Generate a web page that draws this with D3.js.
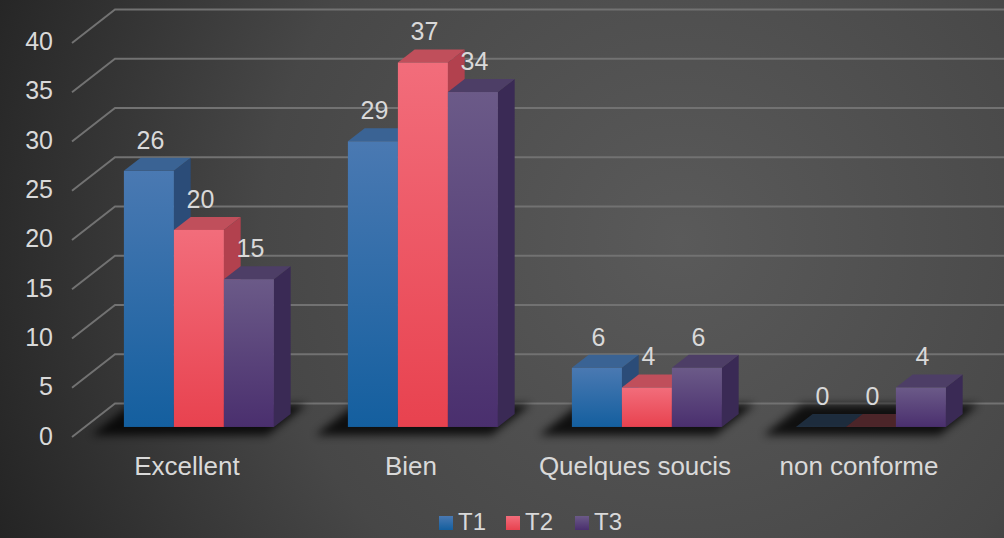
<!DOCTYPE html>
<html>
<head>
<meta charset="utf-8">
<script src="https://cdn.jsdelivr.net/npm/d3@7"></script>
<style>
  html, body { margin: 0; padding: 0; background: #333; }
  svg { display: block; font-family: "Liberation Sans", Arial, sans-serif; }
</style>
</head>
<body>
<svg id="chart" width="1004" height="538"></svg>
<script>
const categories = ['Excellent', 'Bien', 'Quelques soucis', 'non conforme']
const seriesNames = ['T1', 'T2', 'T3']
const t1 = [26, 29, 6, 0]
const t2 = [20, 37, 4, 0]
const t3 = [15, 34, 6, 4]
const yTicks = [0, 5, 10, 15, 20, 25, 30, 35, 40]

const W = 1004
const H = 538
const DX = 43      // depth shift, x
const DY = 33.5    // depth shift, y
const zFront = 0.3
const zBack = 0.69

const palette = {
  T1: { top: '#3a6394', side: '#2b4c78', light: '#4a79b2', dark: '#145f9f' },
  T2: { top: '#c04f5b', side: '#b2414e', light: '#f26d7b', dark: '#e8424f' },
  T3: { top: '#4d3e66', side: '#3a2a55', light: '#6b5a88', dark: '#4a2f6e' },
}

const series = seriesNames.map((name, i) => ({ name, values: [t1, t2, t3][i] }))

const svg = d3.select('#chart')
const defs = svg.append('defs')

// fond
const bg = defs.append('radialGradient').attr('id', 'bg')
  .attr('gradientUnits', 'userSpaceOnUse')
  .attr('cx', 680).attr('cy', 240).attr('r', 760)
bg.append('stop').attr('offset', '0%').attr('stop-color', '#5a5a5a')
bg.append('stop').attr('offset', '55%').attr('stop-color', '#474747')
bg.append('stop').attr('offset', '100%').attr('stop-color', '#222222')
svg.append('rect').attr('width', W).attr('height', H).attr('fill', 'url(#bg)')

defs.append('filter').attr('id', 'blur')
  .attr('x', '-20%').attr('y', '-50%').attr('width', '140%').attr('height', '200%')
  .append('feGaussianBlur').attr('stdDeviation', 4)

seriesNames.forEach(n => {
  const g = defs.append('linearGradient').attr('id', 'front-' + n)
    .attr('x1', 0).attr('y1', 0).attr('x2', 0).attr('y2', 1)
  g.append('stop').attr('offset', '0%').attr('stop-color', palette[n].light)
  g.append('stop').attr('offset', '100%').attr('stop-color', palette[n].dark)
})

// échelles
const y = d3.scaleLinear().domain([0, 40]).range([437, 43])
const x0 = d3.scaleBand().domain(categories).range([74, 970])
const x1 = d3.scaleBand().domain(seriesNames).range([0, 150])
const groupOffset = (x0.bandwidth() - 150) / 2

const px = (x, z) => x + z * DX
const py = (v, z) => y(v) - z * DY

// grille (mur du fond + mur gauche)
const grid = svg.append('g').attr('class', 'grid')
  .attr('stroke', '#727272').attr('stroke-width', 2).attr('fill', 'none')
yTicks.forEach(t => {
  grid.append('polyline')
    .attr('points', [[72, y(t)], [72 + DX, py(t, 1)], [W, py(t, 1)]].map(p => p.join(',')).join(' '))
})

// graduations
svg.append('g').selectAll('text').data(yTicks).join('text')
  .attr('x', 53).attr('y', d => y(d) - 2 + (40 - d) * 0.02)
  .attr('text-anchor', 'end').attr('dominant-baseline', 'central')
  .attr('font-size', 25).attr('fill', '#d9d9d9')
  .text(d => d)

// ombres au sol
svg.append('g').selectAll('polygon').data(categories).join('polygon')
  .attr('points', c => {
    const a = x0(c) + groupOffset - 22
    const b = x0(c) + groupOffset + 150 + 4
    return [[px(a, 0.05), py(0, 0.05)], [px(b, 0.05), py(0, 0.05)],
      [px(b, 0.97), py(0, 0.97)], [px(a, 0.97), py(0, 0.97)]].map(p => p.join(',')).join(' ')
  })
  .attr('fill', '#000').attr('opacity', 0.8).attr('filter', 'url(#blur)')

// barres 3D
const bars = svg.append('g').attr('class', 'bars')
categories.forEach((c, ci) => {
  series.forEach(s => {
    const v = s.values[ci]
    const xl = x0(c) + groupOffset + x1(s.name)
    const xr = xl + x1.bandwidth()
    const col = palette[s.name]
    const g = bars.append('g')
    const pts = arr => arr.map(p => p.join(',')).join(' ')
    if (v > 0) {
      g.append('polygon').attr('fill', col.side)
        .attr('points', pts([[px(xr, zFront), py(0, zFront)], [px(xr, zBack), py(0, zBack)],
          [px(xr, zBack), py(v, zBack)], [px(xr, zFront), py(v, zFront)]]))
    }
    g.append('polygon').attr('fill', col.top).attr('opacity', v > 0 ? 1 : 0.35)
      .attr('points', pts([[px(xl, zFront), py(v, zFront)], [px(xr, zFront), py(v, zFront)],
        [px(xr, zBack), py(v, zBack)], [px(xl, zBack), py(v, zBack)]]))
    if (v > 0) {
      g.append('rect').attr('fill', `url(#front-${s.name})`)
        .attr('x', px(xl, zFront)).attr('y', py(v, zFront))
        .attr('width', xr - xl).attr('height', py(0, zFront) - py(v, zFront))
    }
    // étiquette
    svg.append('text')
      .attr('x', px((xl + xr) / 2, zFront) + 1.5)
      .attr('y', py(v, zBack) - 9)
      .attr('text-anchor', 'middle')
      .attr('font-size', 25).attr('fill', '#d9d9d9')
      .text(v)
  })
})

// catégories
svg.append('g').selectAll('text').data(categories).join('text')
  .attr('x', c => x0(c) + x0.bandwidth() / 2 + 1)
  .attr('y', 475)
  .attr('text-anchor', 'middle')
  .attr('font-size', 26).attr('fill', '#d9d9d9')
  .text(c => c)

// légende
const legendX = [439, 506, 575]
const legend = svg.append('g').selectAll('g').data(seriesNames).join('g')
  .attr('transform', (d, i) => `translate(${legendX[i]},0)`)
legend.append('rect').attr('x', 0).attr('y', 516).attr('width', 14).attr('height', 14)
  .attr('fill', d => `url(#front-${d})`)
legend.append('text').attr('x', 19).attr('y', 530)
  .attr('font-size', 24).attr('fill', '#d9d9d9')
  .text(d => d)
</script>
</body>
</html>
